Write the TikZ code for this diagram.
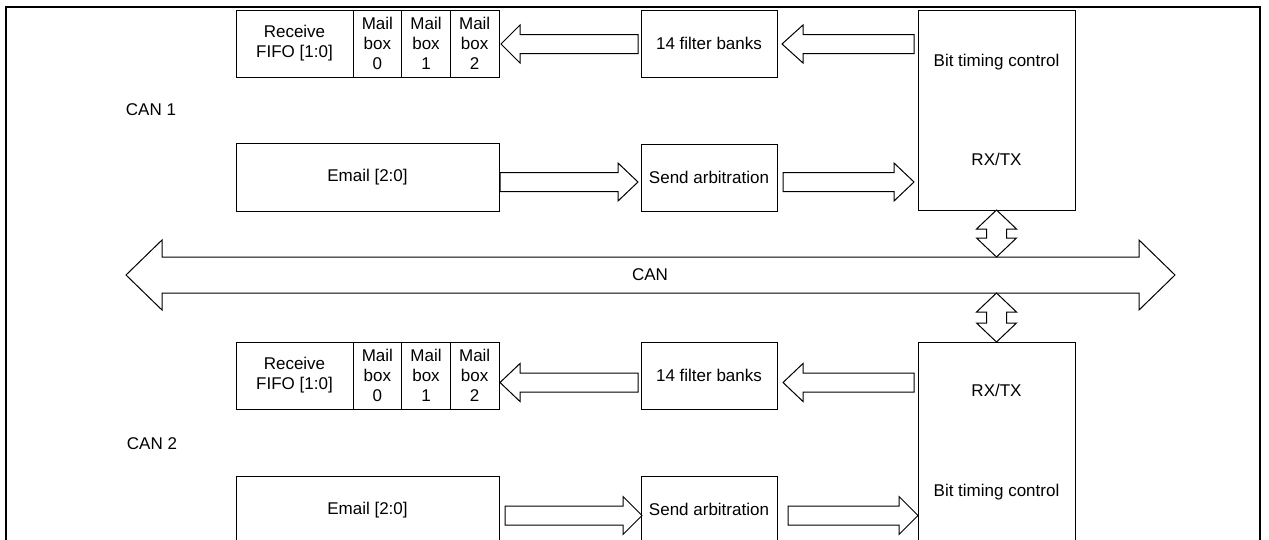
\documentclass[tikz,border=0pt]{standalone}
\usepackage{fontspec}
\setmainfont{Liberation Sans}
\usetikzlibrary{positioning,calc}
\newcommand{\fatarrow}[5]{%
  \coordinate (fa-t) at (#1);
  \coordinate (fa-p) at (#2);
  \coordinate (fa-h) at ($(fa-p)!#5!(fa-t)$);
  \draw[fat] ($(fa-t)!#3!90:(fa-p)$) -- ($(fa-h)!#3!90:(fa-p)$) -- ($(fa-h)!#4!90:(fa-p)$) -- (fa-p)
    -- ($(fa-h)!#4!-90:(fa-p)$) -- ($(fa-h)!#3!-90:(fa-p)$) -- ($(fa-t)!#3!-90:(fa-p)$) -- cycle;}
\newcommand{\fatdarrow}[5]{%
  \coordinate (fd-a) at (#1);
  \coordinate (fd-b) at (#2);
  \coordinate (fd-1) at ($(fd-a)!#5!(fd-b)$);
  \coordinate (fd-2) at ($(fd-b)!#5!(fd-a)$);
  \draw[fat] (fd-a) -- ($(fd-1)!#4!90:(fd-b)$) -- ($(fd-1)!#3!90:(fd-b)$) -- ($(fd-2)!#3!-90:(fd-a)$)
    -- ($(fd-2)!#4!-90:(fd-a)$) -- (fd-b) -- ($(fd-2)!#4!90:(fd-a)$) -- ($(fd-2)!#3!90:(fd-a)$)
    -- ($(fd-1)!#3!-90:(fd-b)$) -- ($(fd-1)!#4!-90:(fd-b)$) -- cycle;}

\begin{document}
\begin{tikzpicture}[x=1pt, y=-1pt, every node/.style={font=\fontsize{17}{20}\selectfont},
                    box/.style={draw, line width=1pt, inner sep=0pt, outer sep=0pt, align=center, minimum height=67pt},
                    mailbox/.style={box, minimum width=48.67pt},
                    fat/.style={draw, fill=white, line width=1pt, line join=miter},
                    frameline/.style={line width=2.2pt}]
  \useasboundingbox (0,0) rectangle (1269,539);
  \clip (0,0) rectangle (1269,539);
  \draw[frameline] (6,545) -- (6,7) -- (1260,7) -- (1260,545);

  \node[box, minimum width=117pt] (fifoA) at (294.5,43.5) {Receive\\FIFO [1:0]};
  \node[mailbox, right=0pt of fifoA] (mbA0) {Mail\\box\\0};
  \node[mailbox, right=0pt of mbA0]  (mbA1) {Mail\\box\\1};
  \node[mailbox, right=0pt of mbA1]  (mbA2) {Mail\\box\\2};
  \node[box, minimum width=136pt] (fA) at (709,43.5) {14 filter banks};
  \node[box, minimum width=157pt, minimum height=200pt] (bA) at (996.5,110) {Bit timing control\\[79pt]RX/TX};
  \node (lblA) at (151,110) {CAN 1};
  \node[box, minimum width=263pt, minimum height=68pt] (eA) at (367.5,177) {Email [2:0]};
  \node[box, minimum width=136pt] (sA) at (709,177.5) {Send arbitration};

  \node[box, minimum width=117pt] (fifoB) at (294.5,375.5) {Receive\\FIFO [1:0]};
  \node[mailbox, right=0pt of fifoB] (mbB0) {Mail\\box\\0};
  \node[mailbox, right=0pt of mbB0]  (mbB1) {Mail\\box\\1};
  \node[mailbox, right=0pt of mbB1]  (mbB2) {Mail\\box\\2};
  \node[box, minimum width=136pt] (fB) at (709,375.5) {14 filter banks};
  \node[box, minimum width=157pt, minimum height=200pt] (bB) at (996.5,442) {RX/TX\\[80pt]Bit timing control};
  \node (lblB) at (152,444) {CAN 2};
  \node[box, minimum width=263pt, minimum height=68pt] (eB) at (367.5,510) {Email [2:0]};
  \node[box, minimum width=136pt] (sB) at (709,509.5) {Send arbitration};

  \coordinate (busW) at (126,275);
  \coordinate (busE) at (1175,275);
  \coordinate (busN) at (650,257);
  \coordinate (busS) at (650,293);
  \fatdarrow{busW}{busE}{18pt}{35pt}{36pt}
  \node (can) at (650,275) {CAN};
  \fatdarrow{bA.south}{bA.south |- busN}{10pt}{20pt}{19pt}
  \fatdarrow{bA.south |- busS}{bB.north}{10pt}{20pt}{19pt}

  \fatarrow{$(fA.west)+(-3,0.5)$}{$(mbA2.east)+(2,0.5)$}{9.5pt}{19pt}{19pt}
  \fatarrow{$(bA.west |- fA.west)+(-4,0.5)$}{$(fA.east)+(5,0.5)$}{9.5pt}{19pt}{21pt}
  \fatarrow{$(eA.east)+(1,5)$}{$(sA.west)+(-3,4.5)$}{9.5pt}{19pt}{20pt}
  \fatarrow{$(sA.east)+(6,4.5)$}{$(bA.west |- sA.east)+(-4,4.5)$}{9.5pt}{19pt}{20pt}

  \fatarrow{$(fB.west)+(-3,7)$}{$(mbB2.east)+(1,7)$}{9.5pt}{19pt}{20pt}
  \fatarrow{$(bB.west |- fB.west)+(-4,7)$}{$(fB.east)+(6,7)$}{9.5pt}{19pt}{20pt}
  \fatarrow{$(eB.east)+(6,5.5)$}{$(sB.west)+(1,6)$}{9.5pt}{19pt}{19pt}
  \fatarrow{$(sB.east)+(11,6)$}{$(bB.west |- sB.east)+(0,6)$}{9.5pt}{19pt}{19pt}
\end{tikzpicture}
\end{document}
